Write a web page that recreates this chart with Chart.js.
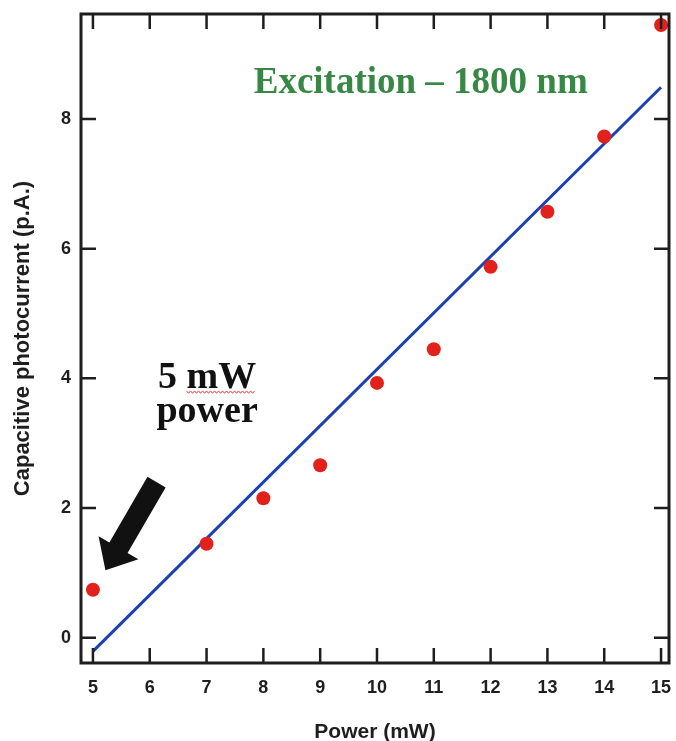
<!DOCTYPE html>
<html><head><meta charset="utf-8">
<script src="https://cdn.jsdelivr.net/npm/chart.js@4/dist/chart.umd.min.js"></script>
<style>html,body{margin:0;padding:0;background:#fff;}canvas{display:block;}</style>
</head><body>
<canvas id="c" width="676" height="741"></canvas>
<script>
// ---- data ----
const powerMW = [5, 7, 8, 9, 10, 11, 12, 13, 14, 15];
const photocurrent = [0.74, 1.45, 2.15, 2.66, 3.93, 4.45, 5.72, 6.57, 7.73, 9.45];
const fitPower = [5, 15];
const fitCurrent = [-0.21, 8.49];
const xTicks = [5, 6, 7, 8, 9, 10, 11, 12, 13, 14, 15];
const yTicks = [0, 2, 4, 6, 8];
const xTitle = 'Power (mW)';
const yTitle = 'Capacitive photocurrent (p.A.)';
const headline = 'Excitation \u2013 1800 nm';
const noteLines = ['5 mW', 'power'];

const SANS = '"Liberation Sans", Arial, sans-serif';
const SERIF = '"Liberation Serif", "Times New Roman", serif';
const INK = '#1e1e1e';

const decor = {
  id: 'decor',
  beforeDraw(chart) {
    const {ctx, width, height} = chart;
    ctx.save(); ctx.fillStyle = '#fff'; ctx.fillRect(0, 0, width, height); ctx.restore();
  },
  afterDraw(chart, args, o) {
    const {ctx, chartArea: a, scales: {x, y}} = chart;
    ctx.save();
    // frame
    ctx.strokeStyle = INK; ctx.lineWidth = 3;
    ctx.strokeRect(a.left, a.top, a.right - a.left, a.bottom - a.top);
    // inward ticks on all four sides
    const L = o.tickLen;
    ctx.lineWidth = 2.5;
    ctx.beginPath();
    x.ticks.forEach(t => {
      const px = x.getPixelForValue(t.value);
      ctx.moveTo(px, a.bottom); ctx.lineTo(px, a.bottom - L);
      ctx.moveTo(px, a.top); ctx.lineTo(px, a.top + L);
    });
    y.ticks.forEach(t => {
      const py = y.getPixelForValue(t.value);
      ctx.moveTo(a.left, py); ctx.lineTo(a.left + L, py);
      ctx.moveTo(a.right, py); ctx.lineTo(a.right - L, py);
    });
    ctx.stroke();

    // headline
    ctx.fillStyle = o.headColor;
    ctx.font = 'bold ' + o.headSize + 'px ' + SERIF;
    ctx.textAlign = 'center'; ctx.textBaseline = 'alphabetic';
    ctx.fillText(headline, x.getPixelForValue(o.headAt[0]), y.getPixelForValue(o.headAt[1]));

    // note
    ctx.fillStyle = '#111';
    ctx.font = 'bold ' + o.noteSize + 'px ' + SERIF;
    noteLines.forEach((s, i) => {
      ctx.fillText(s, x.getPixelForValue(o.noteAt[i][0]), y.getPixelForValue(o.noteAt[i][1]));
    });
    // spell-check squiggle under "mW"
    const w0 = ctx.measureText(noteLines[0]).width;
    const nx = x.getPixelForValue(o.noteAt[0][0]);
    const ny = y.getPixelForValue(o.noteAt[0][1]) + 4;
    const mx0 = nx - w0 / 2 + ctx.measureText('5 ').width;
    const mx1 = nx + w0 / 2;
    ctx.strokeStyle = '#e04040'; ctx.lineWidth = 1;
    ctx.beginPath();
    for (let px = mx0, k = 0; px <= mx1; px += 2, k++) {
      const py = ny + (k % 2 ? 1.2 : -1.2);
      if (k === 0) ctx.moveTo(px, py); else ctx.lineTo(px, py);
    }
    ctx.stroke();

    // arrow
    const tx = x.getPixelForValue(o.arrowFrom[0]), ty = y.getPixelForValue(o.arrowFrom[1]);
    const hx = x.getPixelForValue(o.arrowTo[0]), hy = y.getPixelForValue(o.arrowTo[1]);
    const ang = Math.atan2(hy - ty, hx - tx);
    const len = Math.hypot(hx - tx, hy - ty);
    ctx.translate(tx, ty); ctx.rotate(ang);
    const sw = o.shaftW / 2, hw = o.headW / 2, hl = o.headL;
    ctx.fillStyle = '#111';
    ctx.beginPath();
    ctx.moveTo(0, -sw); ctx.lineTo(len - hl, -sw); ctx.lineTo(len - hl, -hw);
    ctx.lineTo(len, 0);
    ctx.lineTo(len - hl, hw); ctx.lineTo(len - hl, sw); ctx.lineTo(0, sw);
    ctx.closePath(); ctx.fill();
    ctx.restore();
  }
};

new Chart(document.getElementById('c'), {
  type: 'scatter',
  data: {
    datasets: [
      {
        label: 'measured',
        data: powerMW.map((p, i) => ({x: p, y: photocurrent[i]})),
        backgroundColor: '#e3211c', borderColor: '#e3211c',
        pointRadius: 7, pointHoverRadius: 7, borderWidth: 0, order: 1
      },
      {
        label: 'fit',
        data: fitPower.map((p, i) => ({x: p, y: fitCurrent[i]})),
        showLine: true, borderColor: '#1c40b4', borderWidth: 3,
        pointRadius: 0, fill: false, order: 2
      }
    ]
  },
  options: {
    responsive: false, animation: false, devicePixelRatio: 1,
    layout: {padding: {top: 14, right: 6, left: 0, bottom: 0}},
    plugins: {
      legend: {display: false}, tooltip: {enabled: false},
      decor: {
        tickLen: 15,
        headColor: '#378845', headSize: 37, headAt: [10.77, 8.40],
        noteSize: 38, noteAt: [[7.01, 3.85], [7.01, 3.33]],
        arrowFrom: [6.12, 2.40], arrowTo: [5.22, 1.04],
        shaftW: 21, headW: 46, headL: 26
      }
    },
    scales: {
      x: {
        type: 'linear', min: 4.79, max: 15.14,
        grid: {display: false, drawTicks: false},
        border: {display: false},
        ticks: {font: {family: SANS, weight: 'bold', size: 18}, color: INK, padding: 14, maxRotation: 0},
        title: {display: true, text: xTitle, color: INK,
                font: {family: SANS, weight: 'bold', size: 21, lineHeight: 1}, padding: {top: 0, bottom: -2}},
        afterBuildTicks: s => { s.ticks = xTicks.map(v => ({value: v})); },
        afterFit: s => { s.height = 78; s.paddingLeft = 0; s.paddingRight = 0; }
      },
      y: {
        type: 'linear', min: -0.39, max: 9.62,
        grid: {display: false, drawTicks: false},
        border: {display: false},
        ticks: {font: {family: SANS, weight: 'bold', size: 18}, color: INK, padding: 10},
        title: {display: true, text: yTitle, color: INK,
                font: {family: SANS, weight: 'bold', size: 22, lineHeight: 1}, padding: {top: 11.5, bottom: 0}},
        afterBuildTicks: s => { s.ticks = yTicks.map(v => ({value: v})); },
        afterFit: s => { s.width = 81; s.paddingTop = 0; s.paddingBottom = 0; }
      }
    }
  },
  plugins: [decor]
});
</script>
</body></html>
